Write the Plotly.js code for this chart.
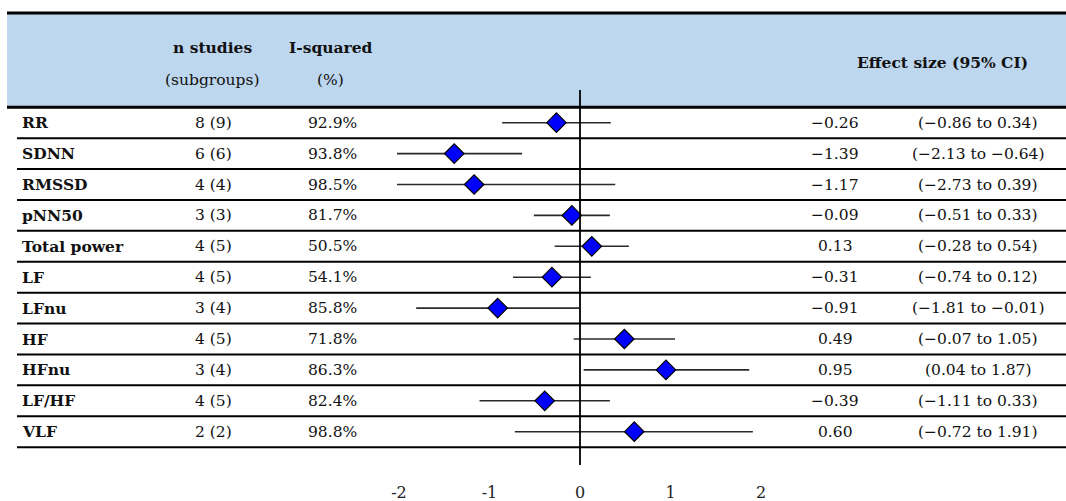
<!DOCTYPE html>
<html><head><meta charset="utf-8">
<script src="https://cdn.plot.ly/plotly-3.0.1.min.js"></script>
<style>html,body{margin:0;padding:0;background:#fff}</style>
</head><body><div id="chart" style="width:1066px;height:501px"></div>
<script>
// ---- data ----
const measures = ['RR','SDNN','RMSSD','pNN50','Total power','LF','LFnu','HF','HFnu','LF/HF','VLF'];
const nStudies = ['8 (9)','6 (6)','4 (4)','3 (3)','4 (5)','4 (5)','3 (4)','4 (5)','3 (4)','4 (5)','2 (2)'];
const iSquared = ['92.9%','93.8%','98.5%','81.7%','50.5%','54.1%','85.8%','71.8%','86.3%','82.4%','98.8%'];
const effect = [-0.26,-1.39,-1.17,-0.09,0.13,-0.31,-0.91,0.49,0.95,-0.39,0.60];
const ciLow  = [-0.86,-2.13,-2.73,-0.51,-0.28,-0.74,-1.81,-0.07,0.04,-1.11,-0.72];
const ciHigh = [0.34,-0.64,0.39,0.33,0.54,0.12,-0.01,1.05,1.87,0.33,1.91];
const tickVals = [-2,-1,0,1,2];
const tickLabels = ['-2','-1','0','1','2'];
const headers = {n1:'n studies', n2:'(subgroups)', i1:'I-squared', i2:'(%)', es:'Effect size (95% CI)'};

// ---- layout constants ----
const W = 1066, H = 501;
const L = 397, R = 0, T = 0, B = 20;
const PW = W - L - R, PH = H - T - B;
const X0PX = 580, UNIT = 90.5;         // zero position and pixels per unit
const ROW0 = 122.7, ROWH = 30.9;        // first row centre and row height
const px2x = p => (p - X0PX) / UNIT;
const px2paper = p => (p - L) / PW;
const px2row = p => (p - ROW0) / ROWH;
const FONT = 'DejaVu Serif';
const FS = 15.5;
const fmt = v => (v < 0 ? '\u2212' : '') + Math.abs(v).toFixed(2);

const idx = measures.map((_, i) => i);

const trace = {
  type: 'scatter', mode: 'markers',
  x: effect, y: idx,
  marker: {symbol: 'diamond', size: 15, color: '#0000ff', line: {color: '#000', width: 1.2}},
  error_x: {type: 'data', symmetric: false,
    array: effect.map((e, i) => ciHigh[i] - e),
    arrayminus: effect.map((e, i) => e - ciLow[i]),
    color: '#2a2a2a', thickness: 1.6, width: 0},
  hoverinfo: 'skip', showlegend: false
};

const shapes = [];
// header band
shapes.push({type:'rect', xref:'paper', yref:'y', x0:px2paper(7), x1:1, y0:px2row(13), y1:-0.5,
  fillcolor:'#bdd7ee', line:{width:0}, layer:'below'});
shapes.push({type:'line', xref:'paper', yref:'y', x0:px2paper(7), x1:1, y0:px2row(13), y1:px2row(13), line:{color:'#000', width:3}});
shapes.push({type:'line', xref:'paper', yref:'y', x0:px2paper(7), x1:1, y0:-0.5, y1:-0.5, line:{color:'#000', width:3}});
idx.forEach(i => {
  shapes.push({type:'line', xref:'paper', yref:'y', x0:px2paper(17), x1:1, y0:i+0.5, y1:i+0.5,
    line:{color:'#000', width: 2}});
});
// zero line
shapes.push({type:'line', xref:'x', yref:'y', x0:0, x1:0, y0:px2row(90), y1:px2row(465), line:{color:'#000', width:1.8}});

const ann = [];
const txt = (text, xpx, y, anchor, extra) => Object.assign({
  text, x: px2paper(xpx), y, xref:'paper', yref:'y', xanchor: anchor, yanchor:'middle',
  showarrow:false, font:{family:FONT, size:FS, color:'#111'}}, extra || {});
idx.forEach(i => {
  ann.push(txt('<b>' + measures[i] + '</b>', 20, i, 'left'));
  ann.push(txt(nStudies[i], 213, i, 'center'));
  ann.push(txt(iSquared[i], 332, i, 'center'));
  ann.push(txt(fmt(effect[i]), 835, i, 'center'));
  ann.push(txt('(' + fmt(ciLow[i]) + ' to ' + fmt(ciHigh[i]) + ')', 978, i, 'center'));
});
ann.push(txt('<b>' + headers.n1 + '</b>', 212, px2row(47), 'center'));
ann.push(txt(headers.n2, 212, px2row(80), 'center'));
ann.push(txt('<b>' + headers.i1 + '</b>', 331, px2row(47), 'center'));
ann.push(txt(headers.i2, 330, px2row(80), 'center'));
ann.push(txt('<b>' + headers.es + '</b>', 942, px2row(62), 'center'));

const layout = {
  width: W, height: H,
  margin: {l: L, r: R, t: T, b: B, pad: 0},
  paper_bgcolor: '#fff', plot_bgcolor: 'rgba(0,0,0,0)',
  xaxis: {range: [px2x(L), px2x(W - R)], tickvals: tickVals, ticktext: tickLabels,
    showgrid:false, zeroline:false, showline:false, ticks:'', automargin:false, fixedrange:true,
    tickfont:{family:FONT, size:16, color:'#222'}},
  yaxis: {range: [px2row(H - B), px2row(T)], visible:false, showgrid:false, zeroline:false, automargin:false, fixedrange:true},
  shapes, annotations: ann, showlegend:false
};

Plotly.newPlot('chart', [trace], layout, {displayModeBar:false, staticPlot:true});
</script></body></html>
